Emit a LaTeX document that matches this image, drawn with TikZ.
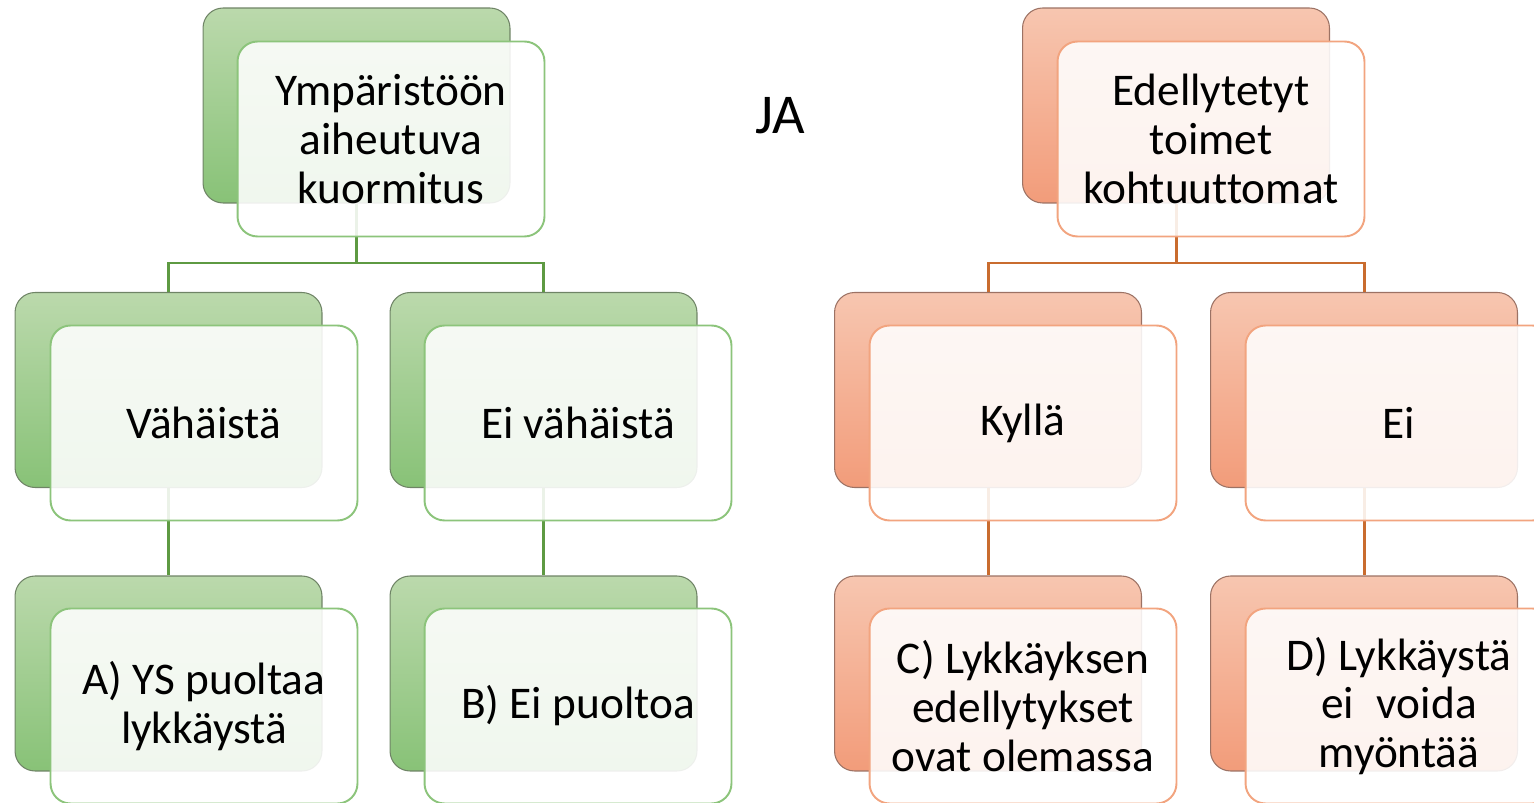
\documentclass[tikz,border=0pt]{standalone}
\usepackage{fontspec}
\setmainfont[Ligatures=NoCommon]{Carlito}
\usepackage{tikz}
\definecolor{green_top}{HTML}{BBD9AC}
\definecolor{green_bot}{HTML}{88C277}
\definecolor{green_edge}{HTML}{6F8466}
\definecolor{green_line}{HTML}{8CC47B}
\definecolor{green_link}{HTML}{5E9A42}
\definecolor{orange_top}{HTML}{F7C6B0}
\definecolor{orange_bot}{HTML}{F29C7A}
\definecolor{orange_edge}{HTML}{9C7264}
\definecolor{orange_line}{HTML}{F2A47F}
\definecolor{orange_link}{HTML}{C96C2F}

\tikzset{
  back/.style={rectangle, rounded corners=0.4cm, minimum width=6.14cm, minimum height=3.9cm, line width=0.6pt},
  gback/.style={back, draw=green_edge, top color=green_top, bottom color=green_bot},
  oback/.style={back, draw=orange_edge, top color=orange_top, bottom color=orange_bot},
  front/.style={rectangle, rounded corners=0.4cm, minimum width=6.14cm, minimum height=3.9cm, line width=1.1pt,
    fill=white, fill opacity=0.88, text opacity=1, align=center, font=\fontsize{25.8}{27.8}\selectfont},
  gfront/.style={front, draw=green_line},
  ofront/.style={front, draw=orange_line},
  glink/.style={green_link, line width=1.7pt},
  olink/.style={orange_link, line width=1.7pt}
}

\begin{document}
\begin{tikzpicture}[x=0.02cm, y=-0.02cm]

      \useasboundingbox (0,0) rectangle (1534,803);

      % Draw back boxes
      \node[gback] (gTopB) at (356.5,105.5) {};
      \node[gback] (gLB) at (168.5,390) {};
      \node[gback] (gRB) at (543.5,390) {};
      \node[gback] (gLLB) at (168.5,673.5) {};
      \node[gback] (gRRB) at (543.5,673.5) {};

      \node[oback] (oTopB) at (1176,105.5) {};
      \node[oback] (oLB) at (988,390) {};
      \node[oback] (oRB) at (1364,390) {};
      \node[oback] (oLLB) at (988,673.5) {};
      \node[oback] (oRRB) at (1364,673.5) {};

      % Draw links
      \coordinate (gFork) at (356.5,263);
      \draw[glink] (gTopB.south) -- (gFork);
      \draw[glink] (gFork) -| (gLB.north);
      \draw[glink] (gFork) -| (gRB.north);
      \draw[glink] (gLB.south) -- (gLLB.north);
      \draw[glink] (gRB.south) -- (gRRB.north);

      \coordinate (oFork) at (1176,263);
      \draw[olink] (oTopB.south) -- (oFork);
      \draw[olink] (oFork) -| (oLB.north);
      \draw[olink] (oFork) -| (oRB.north);
      \draw[olink] (oLB.south) -- (oLLB.north);
      \draw[olink] (oRB.south) -- (oRRB.north);

      % Draw front boxes
      \node[gfront] (gTop) at (391,139) {Ympäristöön\\aiheutuva\\kuormitus};
      \node[gfront] (gL) at (204,423) {Vähäistä};
      \node[gfront] (gR) at (578,423) {Ei vähäistä};
      \node[gfront] (gLL) at (204,706) {A) YS puoltaa\\lykkäystä};
      \node[gfront] (gRR) at (578,706) {B) Ei puoltoa};

      \node[ofront] (oTop) at (1211,139) {Edellytetyt\\toimet\\kohtuuttomat};
      \node[ofront] (oL) at (1023,423) {Kyllä};
      \node[ofront] (oR) at (1399,423) {Ei};
      \node[ofront] (oLL) at (1023,706) {C) Lykkäyksen\\edellytykset\\ovat olemassa};
      \node[ofront] (oRR) at (1399,706) {D) Lykkäystä\\ei\enspace voida\\myöntää};

      % Label between the trees
      \node[font=\fontsize{32}{36}\selectfont] (ja) at (780,116) {JA};

\end{tikzpicture}
\end{document}
